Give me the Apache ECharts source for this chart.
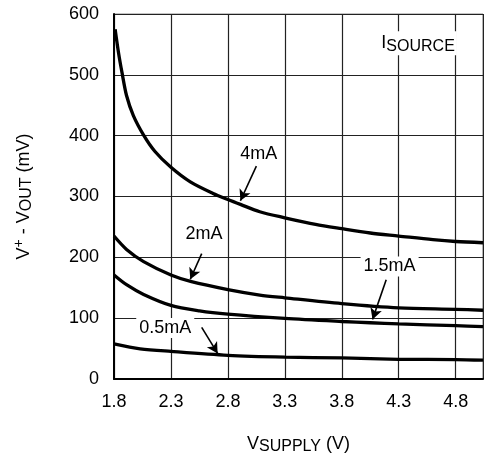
<!DOCTYPE html>
<html>
<head>
<meta charset="utf-8">
<script src="https://cdn.jsdelivr.net/npm/echarts@6/dist/echarts.min.js"></script>
<style>
html,body{margin:0;padding:0;background:#fff;}
#c{width:484px;height:460px;}
</style>
</head>
<body>
<div id="c"></div>
<script>
// Data
var x4mA = [1.81,1.84,1.87,1.91,1.97,2.06,2.16,2.3,2.47,2.67,2.8,2.91,3.08,3.3,3.57,3.8,4.05,4.3,4.6,4.8,5.04];
var y4mA = [575,536,504,466,433,401,374,348,324,305,295,287,275,265,254,247,240,235,229,226,224];
var x2mA = [1.8,1.91,2.06,2.3,2.48,2.8,3.08,3.3,3.8,4.3,4.8,5.04];
var y2mA = [235,213,193,171,160,147,138,133.5,124,117,114.6,113];
var x15mA = [1.8,1.91,2.06,2.3,2.55,2.8,3.3,3.8,4.05,4.3,4.8,5.04];
var y15mA = [171,155,139,121,112,106.5,99.5,94.5,92.5,90.5,87.6,86];
var x05mA = [1.8,2.03,2.3,2.8,3.3,3.8,4.3,4.8,5.04];
var y05mA = [57.8,49.7,45.4,39,36,34.6,32.4,32,31];
var xTicks = [1.8,2.3,2.8,3.3,3.8,4.3,4.8];
var yTicks = [0,100,200,300,400,500,600];

// annotation labels: [text, x, y]; arrows: [x0,y0,x1,y1]
var labels = [["4mA",3.07,370],["2mA",2.59,239],["1.5mA",4.22,185],["0.5mA",2.25,84]];
var arrows = [[3.05,350,2.91,293],[2.57,206,2.47,164],[4.19,163,4.07,98],[2.57,85,2.71,42]];

function pairs(xs, ys){ return xs.map(function(x,i){ return [x, ys[i]]; }); }

var FONT = '"Liberation Sans", Arial, sans-serif';
var chart = echarts.init(document.getElementById('c'), null, {renderer:'canvas'});

function curve(name, xs, ys){
  return {
    name: name, type: 'line', data: pairs(xs, ys), smooth: 0.3,
    showSymbol: false, symbol: 'none', silent: true,
    lineStyle: {color: '#000', width: 3.3}, z: 5
  };
}

var series = [
  curve('4mA', x4mA, y4mA),
  curve('2mA', x2mA, y2mA),
  curve('1.5mA', x15mA, y15mA),
  curve('0.5mA', x05mA, y05mA),
  {
    type: 'line', data: [], silent: true, z: 6,
    markLine: {
      silent: true, animation: false,
      symbol: ['none','arrow'], symbolSize: [9, 11],
      lineStyle: {color: '#000', width: 1.6, type: 'solid'},
      label: {show: false},
      data: arrows.map(function(a){ return [{coord:[a[0],a[1]]},{coord:[a[2],a[3]]}]; })
    },
    markPoint: {
      silent: true, animation: false, symbol: 'circle', symbolSize: 0,
      data: labels.map(function(l){
        return {coord:[l[1],l[2]], label:{show:true, formatter:l[0], color:'#000', fontFamily:FONT, fontSize:18,
          backgroundColor:'#fff', padding:[1,3]}};
      }).concat([{coord:[4.47,552], label:{show:true, formatter:'{a|I}{b|SOURCE}', backgroundColor:'#fff', padding:[1,2],
          rich:{a:{fontFamily:FONT,fontSize:18,color:'#000',lineHeight:22},b:{fontFamily:FONT,fontSize:16,color:'#000',lineHeight:22,padding:[6,0,0,0]}}}}])
    }
  }
];

chart.setOption({
  animation: false,
  backgroundColor: '#fff',
  grid: {left: 114, top: 14, right: 1, bottom: 76, show: true, borderColor: '#888', borderWidth: 1},
  xAxis: {
    type: 'value', min: 1.8, max: 5.04, interval: 0.5,
    axisLine: {show: true, lineStyle: {color: '#000', width: 2}},
    axisTick: {show: false},
    splitLine: {show: true, lineStyle: {color: '#222', width: 1.2}},
    axisLabel: {color: '#000', fontFamily: FONT, fontSize: 18, margin: 14, showMaxLabel: false,
      formatter: function(v){ return v.toFixed(1); }},
    name: '{a|V}{b|SUPPLY}{a| (V)}', nameLocation: 'middle', nameGap: 54,
    nameTextStyle: {rich: {a:{fontFamily:FONT,fontSize:18,color:'#000',lineHeight:22}, b:{fontFamily:FONT,fontSize:16,color:'#000',lineHeight:22,padding:[6,0,0,0]}}}
  },
  yAxis: {
    type: 'value', min: 0, max: 600, interval: 100,
    axisLine: {show: true, lineStyle: {color: '#000', width: 2}},
    axisTick: {show: false},
    splitLine: {show: true, lineStyle: {color: '#222', width: 1.2}},
    axisLabel: {color: '#000', fontFamily: FONT, fontSize: 18, margin: 15},
    name: '{a|V}{c|+}{a| - V}{b|OUT}{a| (mV)}', nameLocation: 'middle', nameGap: 79, nameRotate: 90,
    nameTextStyle: {rich: {a:{fontFamily:FONT,fontSize:18,color:'#000',lineHeight:22}, b:{fontFamily:FONT,fontSize:16,color:'#000',lineHeight:22,padding:[6,0,0,0]}, c:{fontFamily:FONT,fontSize:14,color:'#000',lineHeight:22,padding:[0,0,10,0]}}}
  },
  series: series
});
</script>
</body>
</html>
